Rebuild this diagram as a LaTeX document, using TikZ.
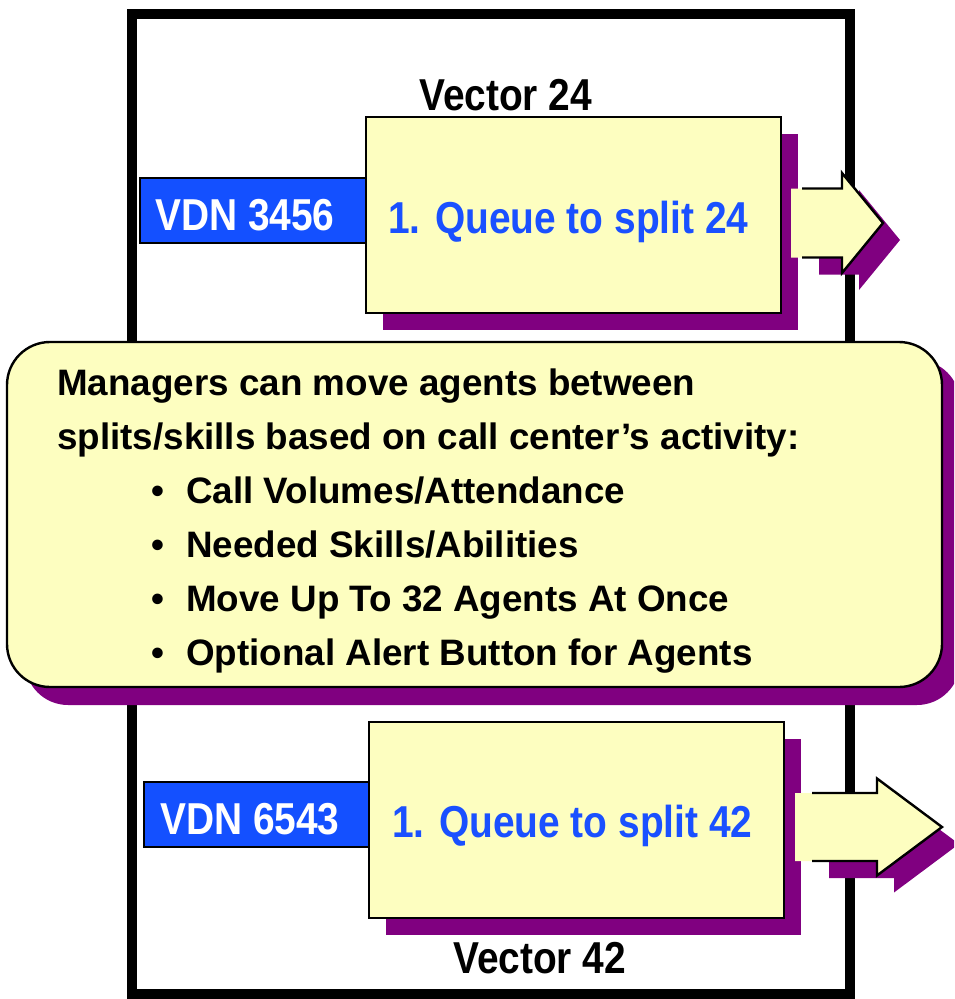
\documentclass[tikz,border=0pt]{standalone}
\usepackage{fontspec}
\setmainfont{Liberation Sans}
\newfontfamily\narrowfont{Liberation Sans}[FakeStretch=0.87]
\usetikzlibrary{shadows}

\definecolor{paleyellow}{HTML}{FDFEC0}
\definecolor{shadowpurple}{HTML}{800080}
\definecolor{vdnblue}{HTML}{1450FF}
\definecolor{textblue}{HTML}{1A50FF}

% block arrow: #1 fill start x, #2 outline start x, #3 head base x,
% #4 tip x, #5 shaft half height, #6 head half height, #7 middle y
\newcommand\blockarrow[7]{%
  \fill[shadowpurple, shift={(17,17)}]
    ({#2},{#7-#5}) -- ({#3},{#7-#5}) -- ({#3},{#7-#6}) -- ({#4},{#7})
    -- ({#3},{#7+#6}) -- ({#3},{#7+#5}) -- ({#2},{#7+#5}) -- cycle;
  \fill[paleyellow]
    ({#1},{#7-#5}) -- ({#3},{#7-#5}) -- ({#3},{#7-#6}) -- ({#4},{#7})
    -- ({#3},{#7+#6}) -- ({#3},{#7+#5}) -- ({#1},{#7+#5}) -- cycle;
  \draw[line width=2.4pt, line join=miter]
    ({#2},{#7-#5}) -- ({#3},{#7-#5}) -- ({#3},{#7-#6}) -- ({#4},{#7})
    -- ({#3},{#7+#6}) -- ({#3},{#7+#5}) -- ({#2},{#7+#5});
}

\begin{document}
\begin{tikzpicture}[x=1pt, y=-1pt,
  framebox/.style={draw=black, line width=9.5pt, inner sep=0pt, outer sep=0pt,
    anchor=north west},
  vecbox/.style={draw=black, line width=2.4pt, fill=paleyellow, inner sep=0pt,
    outer sep=0pt, anchor=north west,
    copy shadow={shadow xshift=17pt, shadow yshift=-17pt, fill=shadowpurple, draw=none}},
  vdnbox/.style={draw=black, line width=2.4pt, fill=vdnblue, inner sep=0pt,
    outer sep=0pt, anchor=north west},
  callbox/.style={draw=black, line width=2.4pt, fill=paleyellow, inner sep=0pt,
    outer sep=0pt, anchor=north west, rounded corners=43pt,
    copy shadow={shadow xshift=18pt, shadow yshift=-18pt, fill=shadowpurple, draw=none}},
  biglabel/.style={inner sep=0pt, anchor=base west,
    font=\narrowfont\bfseries\fontsize{44.7}{50}\selectfont},
  calltext/.style={inner sep=0pt, anchor=base west,
    font=\bfseries\fontsize{36.8}{44}\selectfont},
]
\clip (0,0) rectangle (954,999);

% outer frame
\node[framebox, minimum width=718pt, minimum height=980pt] (frame) at (132,14) {};

% vector 24
\node[vecbox, minimum width=415pt, minimum height=196pt] (vec1) at (366,117) {};
\node[vdnbox, minimum width=226pt, minimum height=65pt] (vdn1) at (140,178) {};
\blockarrow{791}{802}{842}{883}{34.5}{50}{223}
\node[biglabel] (v24) at (419,110) {Vector 24};
\node[biglabel, text=white] (vdn1t) at (155,230) {VDN 3456};
\node[biglabel, text=textblue] (q24) at (388,233) {1. Queue to split 24};

% vector 42
\node[vecbox, minimum width=415pt, minimum height=196pt] (vec2) at (369,722) {};
\node[vdnbox, minimum width=225pt, minimum height=65pt] (vdn2) at (144,782) {};
\blockarrow{795}{812}{877}{942}{34}{48.5}{827}
\node[biglabel] (v42) at (453,973) {Vector 42};
\node[biglabel, text=white] (vdn2t) at (160,834) {VDN 6543};
\node[biglabel, text=textblue] (q42) at (392,837) {1. Queue to split 42};

% callout
\node[callbox, minimum width=935pt, minimum height=345pt] (callout) at (7,342) {};
\node[calltext] (c1) at (57,395) {Managers can move agents between};
\node[calltext] (c2) at (57,449) {splits/skills based on call center’s activity:};
\node[calltext] (c3) at (151,503) {\makebox[35pt][l]{\textbullet}Call Volumes/Attendance};
\node[calltext] (c4) at (151,557) {\makebox[35pt][l]{\textbullet}Needed Skills/Abilities};
\node[calltext] (c5) at (151,611) {\makebox[35pt][l]{\textbullet}Move Up To 32 Agents At Once};
\node[calltext] (c6) at (151,665) {\makebox[35pt][l]{\textbullet}Optional Alert Button for Agents};
\end{tikzpicture}
\end{document}
